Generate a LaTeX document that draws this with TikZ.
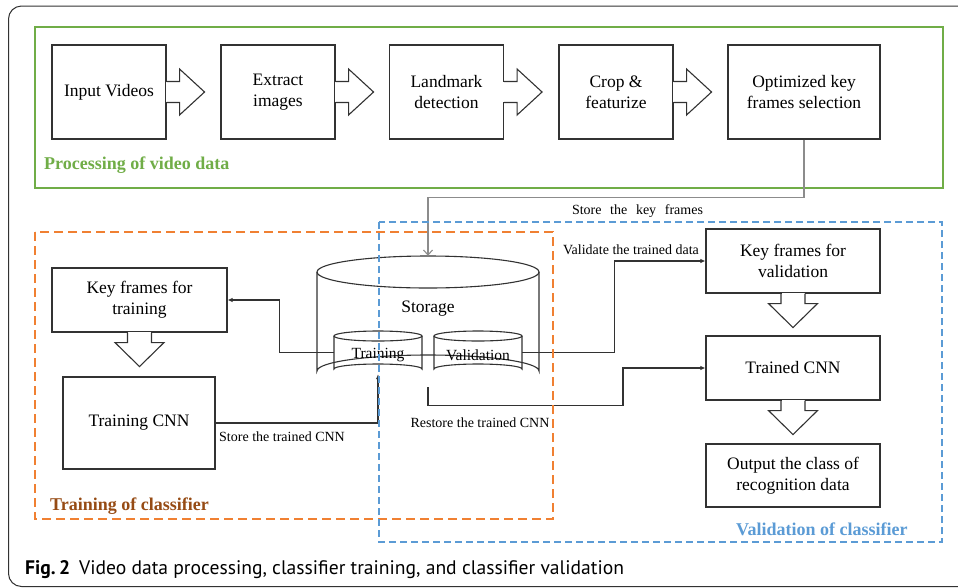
\documentclass[tikz,border=0pt]{standalone}
\usepackage{fontspec}
\setmainfont{Liberation Serif}
\newfontfamily\capfont{PT Sans}
\usetikzlibrary{arrows.meta,calc}
\definecolor{lineg}{RGB}{50,50,50}
\definecolor{arrg}{RGB}{140,140,140}
\definecolor{grn}{RGB}{112,173,71}
\definecolor{org}{RGB}{240,128,50}
\definecolor{brn}{RGB}{150,75,20}
\definecolor{blu}{RGB}{91,155,213}
\begin{document}
\begin{tikzpicture}[x=1pt,y=-1pt,
  box/.style={draw=lineg, line width=1.1pt, fill=white, align=center, inner sep=0pt, font=\fontsize{17.5}{21}\selectfont},
  shapeline/.style={draw=lineg, line width=1.1pt},
  conn/.style={draw=lineg, line width=1.1pt, -{Latex[length=5pt,width=4.5pt]}},
  lbl/.style={font=\fontsize{14}{16}\selectfont, inner sep=0pt},
  grp/.style={font=\fontsize{18}{20}\selectfont\bfseries, inner sep=0pt, anchor=west},
  helper/.style={inner sep=0pt},
  rblock/.pic={\fill[white] (-0.9,-10) rectangle (0.9,10);
    \draw[shapeline] (0,-10.5) -- (13,-10.5) -- (13,-23) -- (38,0) -- (13,23) -- (13,10.5) -- (0,10.5);},
  dblock/.pic={\fill[white] (-11.5,-0.9) rectangle (11.5,0.9);
    \draw[shapeline] (-12,0) -- (-12,10) -- (-24.5,10) -- (0,34) -- (24.5,10) -- (12,10) -- (12,0);}
]
\useasboundingbox (0,0) rectangle (958,587);
\clip (0,0) rectangle (958,587);
% outer frame
\draw[lineg, line width=1pt, rounded corners=13pt] (8.5,6) rectangle (1000,586.5);

% group frames
\draw[grn, line width=1.2pt] (35,27) rectangle (943,188);
\node[grp, text=grn] (g1) at (44,165) {Processing of video data};

% top row
\node[box, minimum width=114pt, minimum height=94pt] (b1) at (109,92) {Input Videos};
\node[box, minimum width=114pt, minimum height=94pt] (b2) at (278,92) {Extract\\images};
\node[box, minimum width=114pt, minimum height=94pt] (b3) at (446.5,92) {Landmark\\detection};
\node[box, minimum width=114pt, minimum height=94pt] (b4) at (616,92) {Crop \&\\featurize};
\node[box, minimum width=152pt, minimum height=94pt] (b5) at (804,92) {Optimized key\\frames selection};
\pic at (b1.east) {rblock};
\pic at (b2.east) {rblock};
\pic at (b3.east) {rblock};
\pic at (b4.east) {rblock};

% storage cylinder
\node[helper, minimum width=222pt, minimum height=131pt] (storage) at (428,321.5) {};
\draw[shapeline, fill=white] (317,272) -- (317,371) arc[start angle=180, end angle=360, x radius=111, y radius=16] -- (539,272);
\draw[shapeline] (428,272) ellipse [x radius=111, y radius=16];
\node[font=\fontsize{17.5}{21}\selectfont, inner sep=0pt] (stlbl) at (428,309) {Storage};

\node[helper, minimum width=88pt, minimum height=43pt] (trn) at (378,352.5) {};
\draw[shapeline] (334,336) -- (334,369) arc[start angle=180, end angle=360, x radius=44, y radius=5] -- (422,336);
\draw[shapeline] (378,336) ellipse [x radius=44, y radius=5];
\node[font=\fontsize{15.5}{18}\selectfont, inner sep=0pt] (trnlbl) at (378,355) {Training};

\node[helper, minimum width=88pt, minimum height=43pt] (val) at (478,352.5) {};
\draw[shapeline] (434,336) -- (434,369) arc[start angle=180, end angle=360, x radius=44, y radius=5] -- (522,336);
\draw[shapeline] (478,336) ellipse [x radius=44, y radius=5];
\node[font=\fontsize{15.5}{18}\selectfont, inner sep=0pt] (vallbl) at (478,355) {Validation};

% left column
\node[box, minimum width=175pt, minimum height=64pt] (kft) at (139.5,300) {Key frames for\\training};
\pic at (kft.south) {dblock};
\node[box, minimum width=152pt, minimum height=92pt] (tcnn) at (139,423) {Training CNN};

% right column
\node[box, minimum width=174pt, minimum height=64pt] (kfv) at (793,261) {Key frames for\\validation};
\pic at (kfv.south) {dblock};
\node[box, minimum width=174pt, minimum height=64pt] (tr) at (793,368) {Trained CNN};
\pic at (tr.south) {dblock};
\node[box, minimum width=174pt, minimum height=63pt] (out) at (793,475.5) {Output the class of\\recognition data};

% connectors
\draw[arrg, line width=1.1pt, -{Straight Barb[length=5pt,width=9pt]}] (b5.south) -- ++(0,58) -| (storage.north);
\node[lbl] (l1) at (637.5,211) {\makebox[131pt][s]{Store the key frames}};
\draw[conn] (trn.west) -- ++(-54,0) |- (kft.east);
\draw[conn] (tcnn.east) -| (trn.south);
\node[lbl] (l2) at (282,437) {Store the trained CNN};
\draw[conn] (val.east) -- ++(92,0) |- (kfv.west);
\node[lbl] (l3) at (631,250) {Validate the trained data};
\draw[conn] (storage.south) -- ++(0,18) -- ++(195,0) |- (tr.west);
\node[lbl] (l4) at (480,423) {Restore the trained CNN};

% dashed group frames
\draw[org, line width=1.3pt, dash pattern=on 9pt off 5pt] (35,232) rectangle (553,519);
\node[grp, text=brn] (g2) at (50,506) {Training of classifier};
\draw[blu, line width=1.3pt, dash pattern=on 7pt off 4pt] (379,222) rectangle (942,542);
\node[grp, text=blu] (g3) at (736,529) {Validation of classifier};

% caption
\node[anchor=base west, inner sep=0pt, font=\capfont\fontsize{19.6}{22}\selectfont] (cap) at (25,574) {\textbf{Fig.\,2}\hspace{9pt}Video data processing, classifier training, and classifier validation};
\end{tikzpicture}
\end{document}
